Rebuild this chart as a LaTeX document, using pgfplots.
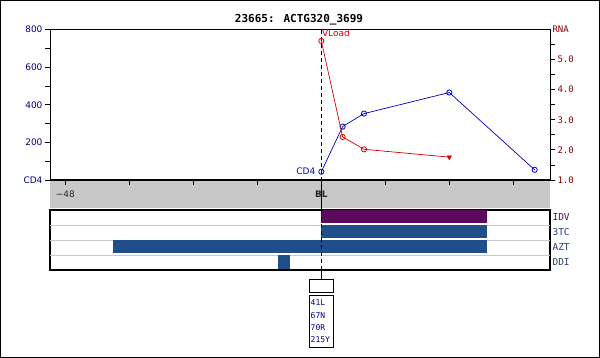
\documentclass[border=0pt]{standalone}
\usepackage{fontspec}
\setmainfont{DejaVu Sans}
\newfontfamily\mono{DejaVu Sans Mono}
\usepackage{pgfplots}
\pgfplotsset{compat=1.18}
\definecolor{cdblue}{RGB}{0,0,200}
\definecolor{labnavy}{RGB}{0,0,128}
\definecolor{rnared}{RGB}{210,0,0}
\definecolor{rnadark}{RGB}{140,0,0}
\definecolor{idvpurple}{RGB}{92,8,92}
\definecolor{drugblue}{RGB}{31,78,138}
\definecolor{druglab}{RGB}{40,60,115}
\definecolor{greyband}{RGB}{200,200,200}
\definecolor{sepgrey}{RGB}{200,200,200}
\begin{document}
\begin{tikzpicture}
\useasboundingbox (0pt,0pt) rectangle (600pt,358pt);
\draw[line width=1pt] (0.5pt,0.5pt) rectangle (599.5pt,357.5pt);
\node[font=\mono\bfseries\fontsize{11}{13}\selectfont] at (299pt,338pt) {23665: ACTG320\_3699};
\fill[greyband] (50pt,150.3pt) rectangle (550pt,178pt);

% ---- CD4 axis (left) ----
\begin{axis}[at={(50pt,178pt)}, anchor=south west, scale only axis,
  width=500pt, height=150.5pt,
  xmin=-50.87, xmax=42.88, ymin=0, ymax=800,
  clip=false,
  axis line style={black, line width=0.8pt},
  xtick={-48,-36,-24,-12,0,12,24,36},
  xticklabels={{−48},,,,\textbf{BL},,,},
  xtick pos=bottom, ytick pos=left,
  tick align=outside, major tick length=5pt,
  tick style={black, line width=0.8pt},
  xticklabel style={font=\fontsize{9}{10}\selectfont, text=black!85, yshift=-2pt},
  ytick={0,100,...,800},
  yticklabels={CD4,,200,,400,,600,,800},
  yticklabel style={font=\fontsize{9}{10}\selectfont, text=labnavy, xshift=1pt},
]
\draw[line width=2pt, black] (rel axis cs:0,0) -- (rel axis cs:1,0);
\draw[black, line width=0.8pt, dash pattern=on 4pt off 3pt] (axis cs:0,800) -- (axis cs:0,0);
\draw[black, line width=0.8pt] (axis cs:0,0) -- ++(0pt,-30pt);
\addplot[cdblue, line width=0.7pt, mark=o, mark size=2.6pt, mark options={solid, line width=0.8pt}]
  coordinates {(0,44) (4,284) (8,353) (24,465) (40,54)};
\node[anchor=east, text=cdblue, font=\fontsize{9}{10}\selectfont, inner sep=1pt] at (axis cs:-0.9,44) {CD4};
\end{axis}

% ---- RNA axis (right) ----
\begin{axis}[at={(50pt,178pt)}, anchor=south west, scale only axis,
  width=500pt, height=150.5pt,
  xmin=-50.87, xmax=42.88, ymin=1, ymax=6,
  clip=false,
  axis x line=none, axis y line*=right,
  axis line style={black, line width=0.8pt},
  tick align=outside, major tick length=5pt,
  tick style={black, line width=0.8pt},
  ytick={1,1.5,...,5.5},
  yticklabels={1.0,,2.0,,3.0,,4.0,,5.0,},
  extra y ticks={6}, extra y tick labels={RNA},
  extra y tick style={major tick length=0pt},
  yticklabel style={font=\mono\fontsize{9}{10}\selectfont, text=rnadark, xshift=-1pt},
]
\addplot[rnared, line width=0.7pt, mark=o, mark size=2.6pt, mark indices={1,2,3}, mark options={solid, line width=0.8pt}]
  coordinates {(0,5.62) (4,2.43) (8,2.02) (24,1.76)};
\addplot[rnared, only marks, mark=triangle*, mark size=2.6pt, mark options={rotate=180}]
  coordinates {(24,1.76)};
\node[anchor=north west, text=rnared, font=\fontsize{9}{10}\selectfont, inner sep=0pt] at (axis cs:0.1,5.99) {VLoad};
\end{axis}

% ---- drug panel ----
\begin{axis}[at={(50pt,88pt)}, anchor=south west, scale only axis,
  width=500pt, height=60pt,
  xmin=-50.87, xmax=42.88, ymin=0, ymax=4,
  clip=false,
  axis line style={black, line width=1.2pt},
  xtick=\empty,
  ytick={0.5,1.5,2.5,3.5},
  yticklabels={\textcolor{druglab}{DDI},\textcolor{druglab}{AZT},\textcolor{druglab}{3TC},\textcolor{idvpurple}{IDV}},
  yticklabel pos=right, major tick length=0pt,
  yticklabel style={font=\mono\fontsize{9.5}{10}\selectfont, xshift=-1pt},
  extra y ticks={1,2,3}, extra y tick labels={},
  extra y tick style={grid=major, grid style={sepgrey, line width=0.8pt}},
]
\addplot[fill=idvpurple, draw=none] coordinates {(0,3.1) (31.1,3.1) (31.1,3.98) (0,3.98)} -- cycle;
\addplot[fill=drugblue, draw=none] coordinates {(0,2.1) (31.1,2.1) (31.1,2.98) (0,2.98)} -- cycle;
\addplot[fill=drugblue, draw=none] coordinates {(-39,1.1) (31.1,1.1) (31.1,1.98) (-39,1.98)} -- cycle;
\addplot[fill=drugblue, draw=none] coordinates {(-8.06,0.05) (-5.87,0.05) (-5.87,0.98) (-8.06,0.98)} -- cycle;
\draw[black, line width=0.8pt, dash pattern=on 4pt off 3pt] (axis cs:0,4) -- (axis cs:0,0);
\draw[black, line width=0.8pt] (axis cs:0,0) -- ++(0pt,-9.3pt);
\end{axis}

% ---- mutation boxes ----
\draw[black, line width=0.8pt] (309.3pt,65.3pt) rectangle (333.7pt,78.7pt);
\draw[black, line width=0.8pt] (309.3pt,10.7pt) rectangle (333.7pt,62.7pt);
\begin{scope}[every node/.style={anchor=west, inner sep=0pt, text=labnavy, font=\mono\fontsize{8}{9}\selectfont}]
\node at (310.5pt,55pt) {41L};
\node at (310.5pt,42.7pt) {67N};
\node at (310.5pt,30.4pt) {70R};
\node at (310.5pt,18.1pt) {215Y};
\end{scope}
\end{tikzpicture}
\end{document}
